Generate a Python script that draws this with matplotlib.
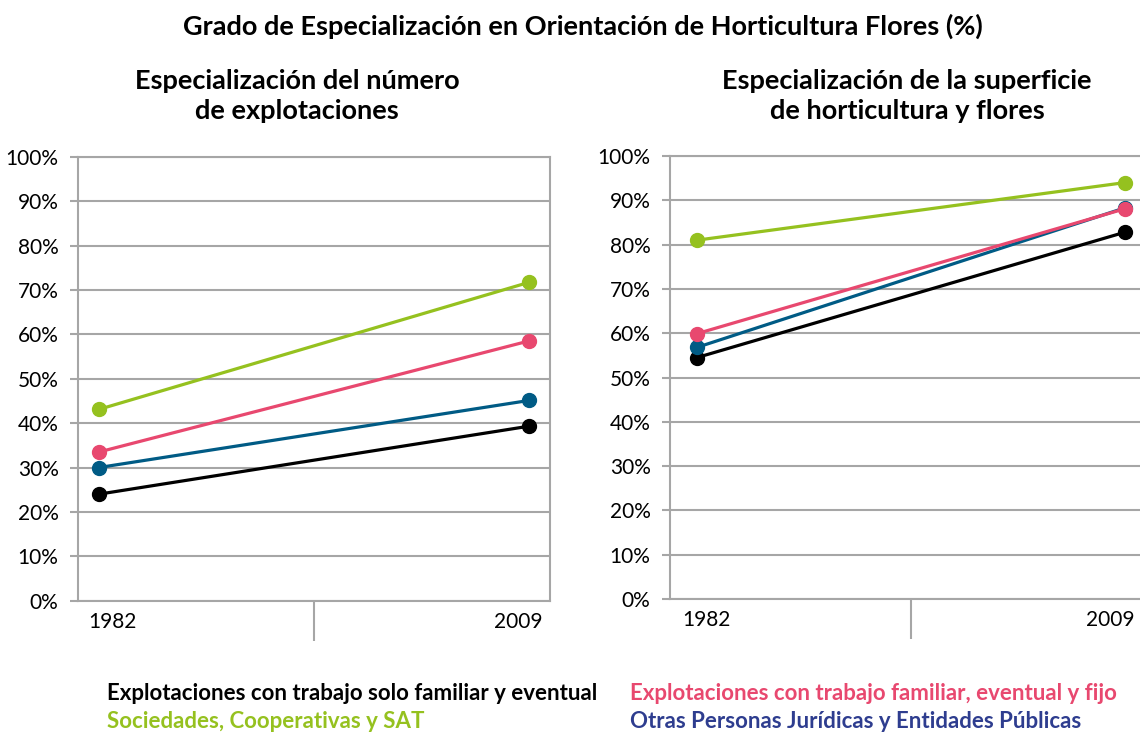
import matplotlib
matplotlib.use("Agg")
import matplotlib.pyplot as plt
from matplotlib.ticker import FixedLocator, PercentFormatter
from matplotlib.transforms import ScaledTranslation

plt.rcParams["font.family"] = ["Lato", "DejaVu Sans"]

# ---------------------------------------------------------------------------
# Data
# ---------------------------------------------------------------------------

years = ["1982", "2009"]

series_names = [
    "Explotaciones con trabajo solo familiar y eventual",
    "Explotaciones con trabajo familiar, eventual y fijo",
    "Sociedades, Cooperativas y SAT",
    "Otras Personas Jurídicas y Entidades Públicas",
]

# Especialización del número de explotaciones (%)
num_familiar_eventual = [24.0, 39.3]
num_familiar_fijo     = [33.5, 58.5]
num_sociedades        = [43.1, 71.7]
num_otras             = [30.0, 45.1]

# Especialización de la superficie de horticultura y flores (%)
sup_familiar_eventual = [54.5, 82.8]
sup_familiar_fijo     = [59.9, 88.1]
sup_sociedades        = [81.0, 94.0]
sup_otras             = [56.8, 88.3]

line_colors = ["#000000", "#e8486f", "#95c11f", "#005b85"]
text_colors = ["#000000", "#e8486f", "#95c11f", "#2e3d8f"]
draw_order = [0, 3, 1, 2]   # black, blue, pink, green on top

GRID = "#a6a6a6"

# ---------------------------------------------------------------------------
# Figure
# ---------------------------------------------------------------------------

fig = plt.figure(figsize=(11.4, 7.34), dpi=100)

ax_left  = fig.add_axes([78 / 1140, 1 - 600.7 / 734, 472 / 1140, 444 / 734])
ax_right = fig.add_axes([670 / 1140, 1 - 599 / 734, 482 / 1140, 443 / 734])


def draw_panel(ax, values, xpad, label_shift, subtitle, sub_x):
    x = list(range(len(years)))
    for z, i in enumerate(draw_order):
        ax.plot(x, values[i], color=line_colors[i], linewidth=2.3,
                marker="o", markersize=10, solid_capstyle="round", zorder=3 + z)

    ax.set_ylim(0, 100)
    ax.set_xlim(-xpad, 1 + xpad)
    ax.yaxis.set_major_locator(FixedLocator(range(0, 101, 10)))
    ax.yaxis.set_major_formatter(PercentFormatter(decimals=0))
    ax.grid(axis="y", color=GRID, linewidth=1.5)
    ax.set_axisbelow(True)

    for side in ["left", "right", "top", "bottom"]:
        ax.spines[side].set_color(GRID)
        ax.spines[side].set_linewidth(1.5)

    ax.set_xticks(x)
    ax.set_xticklabels(years)
    ax.set_xticks([0.5], minor=True)
    ax.tick_params(axis="x", which="major", length=0, pad=8, labelsize=15)
    ax.tick_params(axis="x", which="minor", length=29, width=1.5, color=GRID)
    ax.tick_params(axis="y", length=6, width=1.5, color=GRID, pad=8, labelsize=15)

    # category labels sit a little inside the plot, like the original
    for lab, dx in zip(ax.get_xticklabels(), label_shift):
        lab.set_transform(lab.get_transform() + ScaledTranslation(dx / 100, 0, fig.dpi_scale_trans))

    fig.text(sub_x, 1 - 96 / 734, subtitle, ha="center", va="center",
             fontsize=19.5, fontweight="bold", linespacing=1.3)


draw_panel(
    ax_left,
    [num_familiar_eventual, num_familiar_fijo, num_sociedades, num_otras],
    0.049, (13, -11),
    "Especialización del número\nde explotaciones",
    297 / 1140,
)
draw_panel(
    ax_right,
    [sup_familiar_eventual, sup_familiar_fijo, sup_sociedades, sup_otras],
    0.063, (9, -15),
    "Especialización de la superficie\nde horticultura y flores",
    907 / 1140,
)

fig.text(583 / 1140, 1 - 26 / 734,
         "Grado de Especialización en Orientación de Horticultura Flores (%)",
         ha="center", va="center", fontsize=19.5, fontweight="bold")

# legend as coloured text in two columns
legend_pos = [(107, 693), (630, 693), (107, 721), (630, 721)]
for (lx, ly), name, col in zip(legend_pos, series_names, text_colors):
    fig.text(lx / 1140, 1 - ly / 734, name, ha="left", va="center",
             fontsize=16, fontweight="bold", color=col)

fig.savefig("out.png", dpi=100)
